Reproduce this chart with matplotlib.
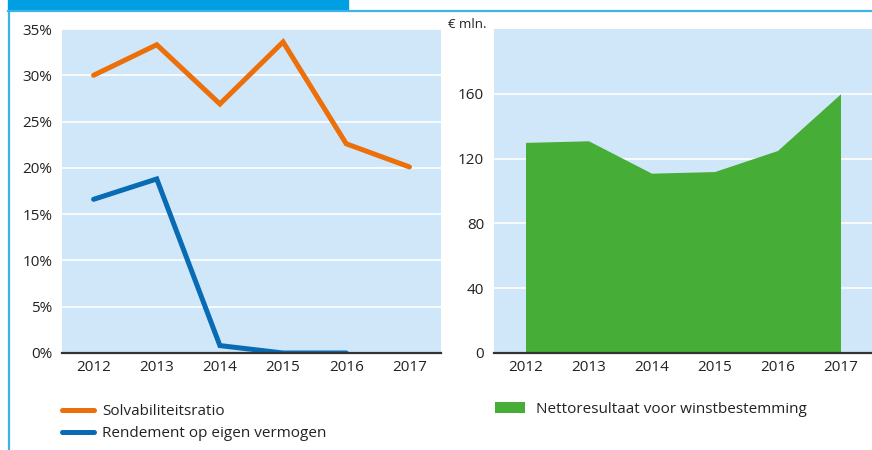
import matplotlib.pyplot as plt
from matplotlib.patches import Rectangle
from matplotlib.lines import Line2D

plt.rcParams['font.family'] = ['Open Sans', 'DejaVu Sans']

years = ['2012', '2013', '2014', '2015', '2016', '2017']
solvabiliteit = [30.0, 33.3, 26.9, 33.6, 22.6, 20.1]
rendement = [16.6, 18.8, 0.8, 0.0, 0.0]
nettoresultaat = [130, 131, 111, 112, 125, 160]

W, H = 872, 450
BG = '#cfe7f8'
ORANGE = '#ec6f0a'
BLUE = '#0a6bb5'
GREEN = '#46ad36'
TXT = '#222222'

fig = plt.figure(figsize=(W / 100, H / 100), dpi=100)

# header band and frame lines
fig.patches.append(Rectangle((8 / W, 1 - 9 / H), 340 / W, 9 / H,
                             transform=fig.transFigure, color='#009fe3', zorder=0))
fig.lines.append(Line2D([8 / W, 1], [1 - 10.5 / H, 1 - 10.5 / H],
                        transform=fig.transFigure, color='#3db4e8', lw=1.6))
fig.lines.append(Line2D([8.5 / W, 8.5 / W], [0, 1 - 10.5 / H],
                        transform=fig.transFigure, color='#3db4e8', lw=1.6))


def px_axes(x0, x1, ytop, ybot):
    return fig.add_axes([x0 / W, 1 - ybot / H, (x1 - x0) / W, (ybot - ytop) / H])


def style(ax):
    ax.set_facecolor(BG)
    for s in ['left', 'right', 'top']:
        ax.spines[s].set_visible(False)
    ax.spines['bottom'].set_color('#333333')
    ax.spines['bottom'].set_linewidth(1.6)
    ax.spines['bottom'].set_zorder(5)
    ax.tick_params(length=0, labelsize=11, colors=TXT)
    ax.tick_params(axis='x', pad=5)
    ax.tick_params(axis='y', pad=7)
    ax.grid(axis='y', color='white', lw=1.2)
    ax.set_axisbelow(True)
    ax.set_xlim(-0.5, 5.5)
    ax.set_xticks(range(len(years)))
    ax.set_xticklabels(years)


# left: ratios
ax1 = px_axes(62, 441, 29, 353)
style(ax1)
x = list(range(len(years)))
ax1.plot(x, solvabiliteit, color=ORANGE, lw=3.6, solid_capstyle='round',
         solid_joinstyle='miter', label='Solvabiliteitsratio', zorder=3)
ax1.plot(x[:len(rendement)], rendement, color=BLUE, lw=3.6, solid_capstyle='round',
         solid_joinstyle='miter', label='Rendement op eigen vermogen', zorder=3)
ax1.set_ylim(0, 35)
ax1.set_yticks(range(0, 36, 5))
ax1.set_yticklabels([f'{v}%' for v in range(0, 36, 5)])
ax1.legend(loc='upper left', bbox_to_anchor=(-0.036, -0.115), frameon=False,
           fontsize=11, handlelength=2.1, handletextpad=0.5, labelspacing=0.45,
           labelcolor=TXT)

# right: net result
ax2 = px_axes(494, 872, 29, 353)
style(ax2)
ax2.fill_between(x, nettoresultaat, 0, color=GREEN, lw=0, zorder=2,
                 label='Nettoresultaat voor winstbestemming')
ax2.set_ylim(0, 200)
ax2.set_yticks(range(0, 161, 40))
ax2.legend(loc='upper left', bbox_to_anchor=(-0.034, -0.108), frameon=False,
           fontsize=11, handlelength=1.96, handleheight=0.8, handletextpad=0.7,
           labelcolor=TXT)
fig.text(448 / W, 1 - 24 / H, '€ mln.', fontsize=9.5, color=TXT, ha='left', va='center')

fig.savefig('out.png', dpi=100)
